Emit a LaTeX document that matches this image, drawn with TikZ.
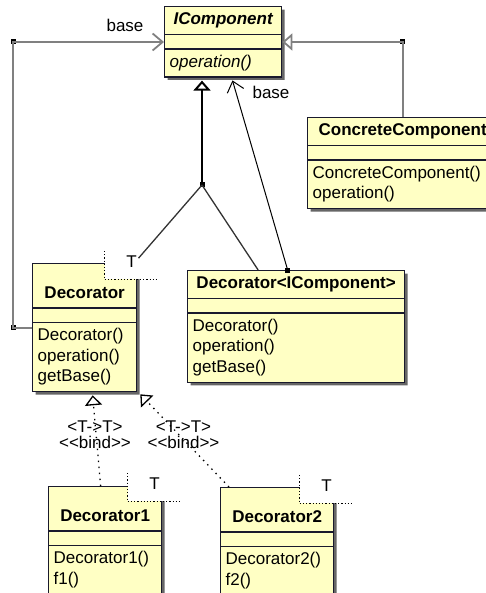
\documentclass[tikz,border=0pt]{standalone}
\usepackage{fontspec}
\setmainfont{Liberation Sans}
\usetikzlibrary{shapes.multipart, shadows, arrows.meta}

\definecolor{umlfill}{RGB}{255,255,196}
\definecolor{umlline}{RGB}{25,25,45}

\tikzset{
  umlclass/.style={rectangle split, rectangle split parts=3, draw=umlline, line width=1.3pt,
    fill=umlfill, anchor=north west, align=left, rectangle split part align={center,left,left},
    inner xsep=5pt, inner ysep=3pt, rectangle split empty part height=7pt,
    drop shadow={shadow xshift=3pt, shadow yshift=-3pt, fill=black!60, opacity=1},
    font=\fontsize{17}{20.7}\selectfont},
  tparam/.style={fill=white, anchor=north west, minimum width=54pt, text height=12pt,
    text depth=8pt, inner sep=4pt, font=\fontsize{17}{20.7}\selectfont},
  junction/.style={fill=black, minimum size=5pt, inner sep=0pt},
  lbl/.style={font=\fontsize{17}{16}\selectfont, align=center, inner sep=0pt},
  gen/.style={-{Triangle[open, length=10pt, width=17pt]}},
  nav/.style={-{Straight Barb[length=10pt, width=17pt]}},
  bind/.style={gen, line width=1.3pt, dash pattern=on 1.4pt off 4.6pt},
}
\newcommand{\tstrut}{\rule[-6pt]{0pt}{37pt}}

\begin{document}
\begin{tikzpicture}[x=1pt, y=-1pt]
\useasboundingbox (0,0) rectangle (486,593);

% classes
\node[umlclass, minimum width=117pt] (icomp) at (164,6)
  {\bfseries\itshape\strut IComponent\nodepart{second}\nodepart{third}\itshape\strut operation()};
\node[umlclass, minimum width=190pt] (concrete) at (307,117)
  {\bfseries\strut ConcreteComponent\nodepart{second}\nodepart{third}\strut ConcreteComponent()\\ \strut operation()};
\node[umlclass, minimum width=104pt] (dec) at (32,263)
  {\bfseries\tstrut Decorator\nodepart{second}\nodepart{third}\strut Decorator()\\ \strut operation()\\ \strut getBase()};
\node[tparam] (decT) at ([xshift=-33pt, yshift=12pt]dec.north east) {T};
\node[umlclass, minimum width=217pt] (decI) at (187,270)
  {\bfseries\strut Decorator<IComponent>\nodepart{second}\nodepart{third}\strut Decorator()\\ \strut operation()\\ \strut getBase()};
\node[umlclass, minimum width=113pt] (dec1) at (48,486)
  {\bfseries\tstrut Decorator1\nodepart{second}\nodepart{third}\strut Decorator1()\\ \strut f1()};
\node[tparam] (dec1T) at ([xshift=-35pt, yshift=13pt]dec1.north east) {T};
\node[umlclass, minimum width=113pt] (dec2) at (220,487)
  {\bfseries\tstrut Decorator2\nodepart{second}\nodepart{third}\strut Decorator2()\\ \strut f2()};
\node[tparam] (dec2T) at ([xshift=-35pt, yshift=12pt]dec2.north east) {T};

% template parameter boxes
\foreach \t in {decT, dec1T, dec2T}
  \draw[dotted, line width=1.2pt] (\t.north west) -- (\t.south west) -- (\t.south east);

% junctions
\node[junction] (jl) at (13,42) {};
\node[junction] (jb) at (jl |- dec.west) {};
\node[junction] (jr) at (concrete.north |- jl) {};
\node[junction] (jg) at (202,185) {};
\node[junction] (jd) at ([xshift=-8.5pt]decI.north) {};

% connectors
\draw[nav, draw=gray, line width=1.8pt] (dec.west) -- (jb.center) -- (jl.center) -- (jl.center -| icomp.west);
\draw[gen, draw=gray, line width=1.8pt] (concrete.north) -- (jr.center) -- (jr.center -| icomp.east);
\draw[gen, line width=2pt, shorten >=3pt] (jg.center) -- (jg.center |- icomp.south);
\draw[line width=1.3pt, draw=black!80] (jg.center) -- ([xshift=7pt, yshift=7pt]decT.center);
\draw[line width=1.3pt, draw=black!80] (jg.center) -- ([xshift=-38pt]decI.north);
\draw[nav, line width=1pt, shorten >=3pt] (jd.center) -- ([xshift=8.5pt]icomp.south);
\draw[bind] ([xshift=-4.5pt]dec1.north) -- ([xshift=8pt, yshift=-3pt]dec.south);
\draw[bind] ([xshift=9pt]dec2.north west) -- ([xshift=3pt, yshift=-2pt]dec.south east);

% labels
\node[lbl] (baseL) at (125,25) {base};
\node[lbl] (baseR) at (271,92) {base};
\node[lbl] (bind1) at (95,435) {<T->T>\\<\kern0pt<bind>\kern0pt>};
\node[lbl] (bind2) at (183.5,435) {<T->T>\\<\kern0pt<bind>\kern0pt>};
\end{tikzpicture}
\end{document}
